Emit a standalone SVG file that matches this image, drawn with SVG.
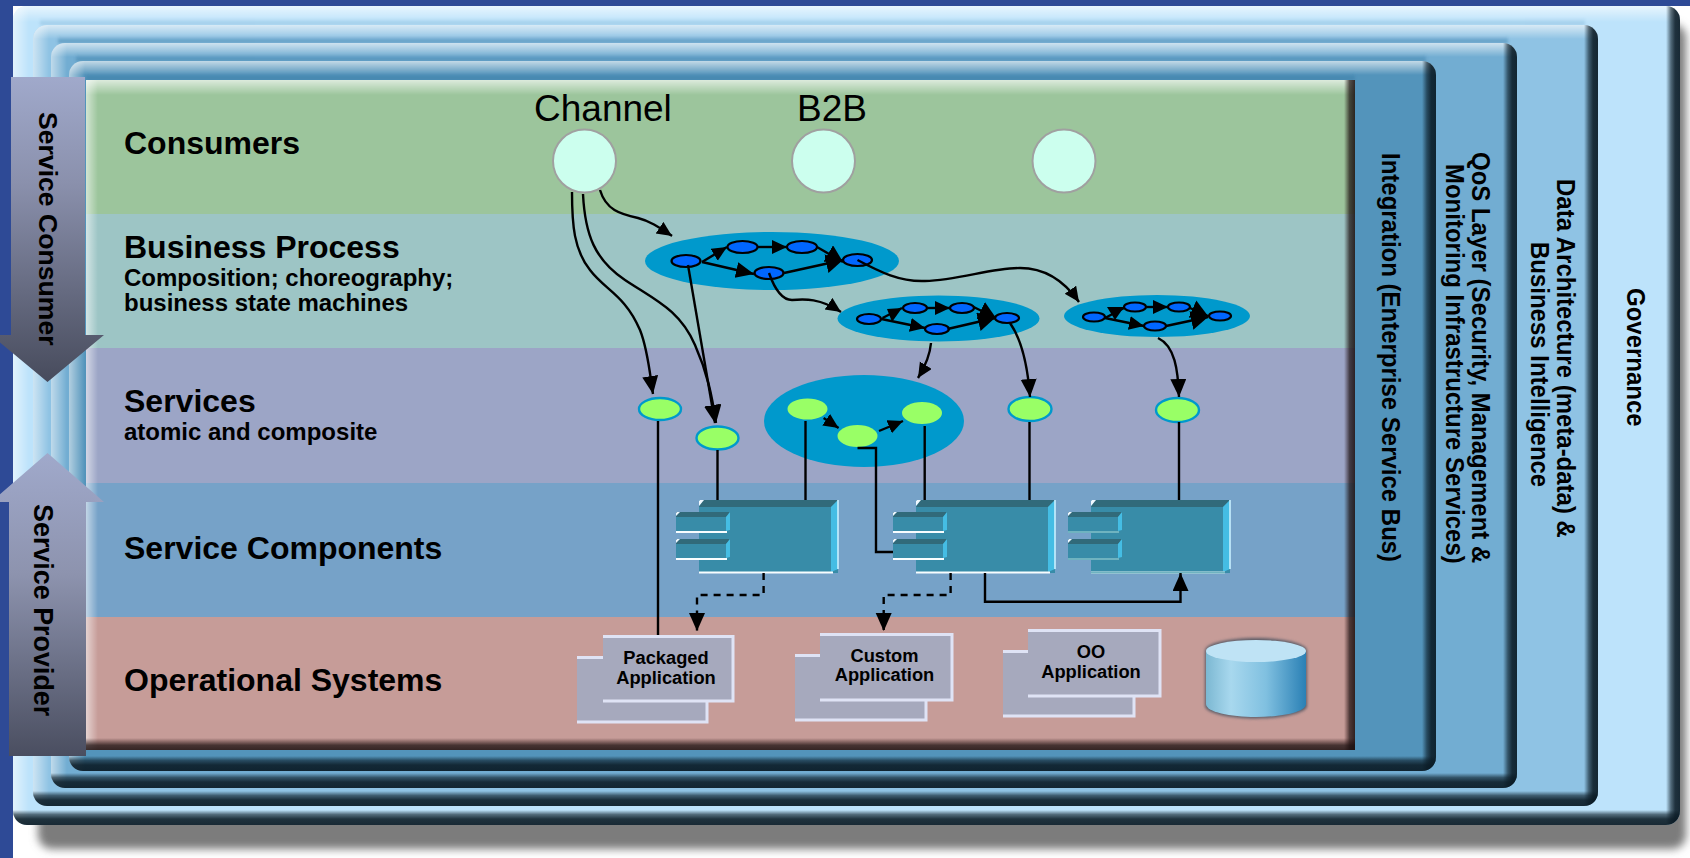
<svg xmlns="http://www.w3.org/2000/svg" width="1690" height="858" viewBox="0 0 1690 858">
<style>
.h{font:bold 32px "Liberation Sans",Arial,sans-serif;fill:#000}
.s{font:bold 24px "Liberation Sans",Arial,sans-serif;fill:#000}
.v{font:bold 26px "Liberation Sans",Arial,sans-serif;fill:#000}
.n{font:37px "Liberation Sans",Arial,sans-serif;fill:#000}
.b{font:bold 18.3px "Liberation Sans",Arial,sans-serif;fill:#000;text-anchor:middle}
.c{fill:none;stroke:#000;stroke-width:2.4}
.d{stroke-dasharray:7 6}
.m{marker-end:url(#am)}
.l{marker-end:url(#al)}
.x{marker-end:url(#ax)}
.bl{fill:#06f;stroke:#000;stroke-width:2.2}
.gr{fill:#9f6;stroke:#09c;stroke-width:2.4}
.gn{fill:#9f6}
.el{fill:#09c}
.ci{fill:#cfe;stroke:#a0a0a0;stroke-width:2}
.bk{fill:#a6a9bd}
.be{fill:none;stroke:#dfe3f5;stroke-width:3}
</style>
<defs>
<marker id="am" markerUnits="userSpaceOnUse" markerWidth="16" markerHeight="15" refX="15" refY="7" orient="auto"><path d="M0 0L15 7L0 14z"/></marker>
<marker id="al" markerUnits="userSpaceOnUse" markerWidth="19" markerHeight="17" refX="18" refY="8" orient="auto"><path d="M0 0L18 8L0 16z"/></marker>
<marker id="ax" markerUnits="userSpaceOnUse" markerWidth="18" markerHeight="20" refX="17" refY="9.5" orient="auto"><path d="M0 0L17 9.5L0 19z"/></marker>
<filter id="blur" x="-5%" y="-5%" width="110%" height="110%"><feGaussianBlur stdDeviation="4"/></filter>
<filter id="blur2" x="-10%" y="-10%" width="120%" height="120%"><feGaussianBlur stdDeviation="1.5"/></filter>
<filter id="soft" x="-2%" y="-200%" width="104%" height="500%"><feGaussianBlur stdDeviation="1.6"/></filter>
<linearGradient id="arrowD" x1="0" y1="0" x2="0" y2="1"><stop offset="0" stop-color="#a0a9cb"/><stop offset=".35" stop-color="#8a90ac"/><stop offset="1" stop-color="#474b5c"/></linearGradient>
<linearGradient id="arrowU" x1="0" y1="0" x2="0" y2="1"><stop offset="0" stop-color="#a0a9cb"/><stop offset=".4" stop-color="#8d93ae"/><stop offset="1" stop-color="#4a4e60"/></linearGradient>
<linearGradient id="wTop" x1="0" y1="0" x2="0" y2="1"><stop offset="0" stop-color="#fff" stop-opacity=".65"/><stop offset="1" stop-color="#fff" stop-opacity="0"/></linearGradient>
<linearGradient id="wLeft" x1="0" y1="0" x2="1" y2="0"><stop offset="0" stop-color="#fff" stop-opacity=".55"/><stop offset="1" stop-color="#fff" stop-opacity="0"/></linearGradient>
<linearGradient id="glow" x1="0" y1="0" x2="0" y2="1"><stop offset="0" stop-color="#3f7fa8" stop-opacity="0"/><stop offset="1" stop-color="#3f7fa8" stop-opacity=".85"/></linearGradient>
<linearGradient id="kRight" x1="0" y1="0" x2="1" y2="0"><stop offset="0" stop-color="#0a1a24" stop-opacity="0"/><stop offset=".35" stop-color="#0a1a24" stop-opacity=".6"/><stop offset=".65" stop-color="#0a1a24" stop-opacity=".88"/><stop offset="1" stop-color="#0a1a24" stop-opacity=".92"/></linearGradient>
<linearGradient id="kBot" x1="0" y1="0" x2="0" y2="1"><stop offset="0" stop-color="#0a1a24" stop-opacity="0"/><stop offset=".3" stop-color="#0a1a24" stop-opacity=".6"/><stop offset=".6" stop-color="#0a1a24" stop-opacity=".88"/><stop offset="1" stop-color="#0a1a24" stop-opacity=".92"/></linearGradient>
<linearGradient id="kRightI" x1="0" y1="0" x2="1" y2="0"><stop offset="0" stop-color="#2a1010" stop-opacity="0"/><stop offset=".5" stop-color="#1c1010" stop-opacity=".7"/><stop offset="1" stop-color="#1c1010" stop-opacity=".88"/></linearGradient>
<linearGradient id="kBotI" x1="0" y1="0" x2="0" y2="1"><stop offset="0" stop-color="#2a1010" stop-opacity="0"/><stop offset=".6" stop-color="#1c1010" stop-opacity=".75"/><stop offset="1" stop-color="#1c1010" stop-opacity=".85"/></linearGradient>
<linearGradient id="cyl" x1="0" y1="0" x2="1" y2="0"><stop offset="0" stop-color="#7cb8d2"/><stop offset=".25" stop-color="#a8d8ee"/><stop offset=".6" stop-color="#80c0e0"/><stop offset="1" stop-color="#2a80b5"/></linearGradient>
<clipPath id="p1"><rect x="13" y="6" width="1667" height="819" rx="14"/></clipPath>
<clipPath id="p2"><rect x="33" y="25" width="1565" height="781" rx="14"/></clipPath>
<clipPath id="p3"><rect x="51" y="43" width="1466" height="745" rx="14"/></clipPath>
<clipPath id="p4"><rect x="69" y="61" width="1367" height="710" rx="14"/></clipPath>
<g id="tab">
<path d="M0 12H54V33H0z" fill="#388ca8"/>
<path d="M0 12H54L50 17H0z" fill="#316a7a"/>
<path d="M50 17L54 12V30L50 31z" fill="#45bde4"/>
<rect x="0" y="31" width="51" height="2" fill="#f8fdff"/>
<path d="M0 16L4 12H1L0 13z" fill="#f0f8ff"/>
</g>
<g id="comp">
<rect x="23" y="0" width="139" height="73" fill="#388ca8"/>
<path d="M27 0H162L155 7H23z" fill="#316a7a"/>
<path d="M155 7L162 0V69L155 72z" fill="#45bde4"/>
<path d="M162 0V69" fill="none" stroke="#c8f0ff" stroke-width="1.6"/>
<rect x="23" y="71.500" width="134" height="2" fill="#f8fdff"/>
<path d="M23 6L28 0H24L23 1z" fill="#f0f8ff"/>
<use href="#tab"/>
<use href="#tab" y="27"/>
</g>
</defs>
<rect width="1690" height="858" fill="#fff"/>
<rect x="0" y="0" width="13" height="858" fill="#2e4a96"/>
<rect x="0" y="0" width="1690" height="6" fill="#2e4a96"/>
<g id="shadow"><rect x="38" y="24" width="1648" height="825" rx="14" fill="#7b7b7b" filter="url(#blur)"/></g>

<g id="governance" clip-path="url(#p1)">
<rect x="13" y="6" width="1667" height="819" fill="#bde3fb"/>
<rect x="13" y="6" width="1667" height="16" fill="url(#wTop)"/>
<rect x="13" y="6" width="16" height="819" fill="url(#wLeft)"/>
<rect x="1666" y="6" width="14" height="819" fill="url(#kRight)"/>
<rect x="13" y="810" width="1667" height="15" fill="url(#kBot)"/>
<rect x="40" y="18" width="1545" height="7" fill="url(#glow)" opacity=".3" filter="url(#soft)"/>
</g>
<g id="data" clip-path="url(#p2)">
<rect x="33" y="25" width="1565" height="781" fill="#8fc3e4"/>
<rect x="33" y="25" width="1565" height="14" fill="url(#wTop)"/>
<rect x="33" y="25" width="16" height="781" fill="url(#wLeft)"/>
<rect x="1584" y="25" width="14" height="781" fill="url(#kRight)"/>
<rect x="33" y="791" width="1565" height="15" fill="url(#kBot)"/>
<rect x="58" y="36" width="1450" height="7" fill="url(#glow)" opacity=".8" filter="url(#soft)"/>
</g>
<g id="qos" clip-path="url(#p3)">
<rect x="51" y="43" width="1466" height="745" fill="#72add2"/>
<rect x="51" y="43" width="1466" height="14" fill="url(#wTop)"/>
<rect x="51" y="43" width="16" height="745" fill="url(#wLeft)"/>
<rect x="1503" y="43" width="14" height="745" fill="url(#kRight)"/>
<rect x="51" y="773" width="1466" height="15" fill="url(#kBot)"/>
<rect x="76" y="54" width="1350" height="7" fill="url(#glow)" opacity=".8" filter="url(#soft)"/>
</g>
<g id="integration" clip-path="url(#p4)">
<rect x="69" y="61" width="1367" height="710" fill="#5394bb"/>
<rect x="69" y="61" width="1367" height="14" fill="url(#wTop)"/>
<rect x="69" y="61" width="16" height="710" fill="url(#wLeft)"/>
<rect x="1422" y="61" width="14" height="710" fill="url(#kRight)"/>
<rect x="69" y="756" width="1367" height="15" fill="url(#kBot)"/>
<rect x="86" y="73" width="1269" height="7" fill="url(#glow)" filter="url(#soft)"/>
</g>

<g id="layers">
<rect id="layer-consumers" x="86" y="80" width="1269" height="134" fill="#9cc59c"/>
<rect id="layer-process" x="86" y="214" width="1269" height="134" fill="#9dc5c5"/>
<rect id="layer-services" x="86" y="348" width="1269" height="135" fill="#9ca5c6"/>
<rect id="layer-components" x="86" y="483" width="1269" height="134" fill="#76a2c8"/>
<rect id="layer-ops" x="86" y="617" width="1269" height="133" fill="#c69c98"/>
<rect x="86" y="80" width="1269" height="15" fill="url(#wTop)"/>
<rect x="86" y="80" width="12" height="670" fill="url(#wLeft)"/>
<rect x="1344" y="80" width="11" height="670" fill="url(#kRightI)"/>
<rect x="86" y="738" width="1269" height="12" fill="url(#kBotI)"/>
</g>

<g id="band-labels">
<text class="v" transform="translate(1382 153) rotate(90) scale(.923 1)">Integration (Enterprise Service Bus)</text>
<text class="v" transform="translate(1472 152) rotate(90) scale(.923 1)">QoS Layer (Security, Management &amp;</text>
<text class="v" transform="translate(1446 164) rotate(90) scale(.923 1)">Monitoring Infrastructure Services)</text>
<text class="v" transform="translate(1557 179) rotate(90) scale(.923 1)">Data Architecture (meta-data) &amp;</text>
<text class="v" transform="translate(1531 242) rotate(90) scale(.923 1)">Business Intelligence</text>
<text class="v" transform="translate(1627 288) rotate(90) scale(.923 1)">Governance</text>
<text class="h" x="124" y="154">Consumers</text>
<text class="h" x="124" y="258">Business Process</text>
<text class="s" x="124" y="286">Composition; choreography;</text>
<text class="s" x="124" y="311">business state machines</text>
<text class="h" x="124" y="412">Services</text>
<text class="s" x="124" y="440">atomic and composite</text>
<text class="h" x="124" y="559">Service Components</text>
<text class="h" x="124" y="691">Operational Systems</text>
</g>

<g id="service-consumer">
<path d="M11 77H85V335H104L47.5 382L-9 335H11z" fill="url(#arrowD)"/>
<text class="v" transform="translate(39 112) rotate(90)" style="font-size:26.6px">Service Consumer</text>
</g>
<g id="service-provider">
<path d="M9 756H86V502H104L47.5 453L-9 502H9z" fill="url(#arrowU)"/>
<text class="v" transform="translate(33.5 504) rotate(90)" style="font-size:26.9px">Service Provider</text>
</g>

<g id="channel"><circle class="ci" cx="584.5" cy="161" r="31.5"/><text class="n" x="534" y="121">Channel</text></g>
<g id="b2b"><circle class="ci" cx="823.5" cy="161" r="31.5"/><text class="n" x="797" y="121">B2B</text></g>
<g id="consumer3"><circle class="ci" cx="1064" cy="161" r="31.5"/></g>

<g id="process-1"><ellipse class="el" cx="772" cy="261" rx="127" ry="29"/>
<ellipse class="bl" cx="686" cy="261" rx="14.5" ry="6"/><ellipse class="bl" cx="742.5" cy="247" rx="15" ry="6"/><ellipse class="bl" cx="802" cy="247" rx="15" ry="6"/><ellipse class="bl" cx="857.5" cy="260" rx="14.5" ry="6"/><ellipse class="bl" cx="769" cy="273" rx="14.5" ry="6"/></g>
<g id="process-2"><ellipse class="el" cx="938.5" cy="318.5" rx="101" ry="23"/>
<ellipse class="bl" cx="869" cy="319" rx="12" ry="5"/><ellipse class="bl" cx="915" cy="308" rx="12" ry="5"/><ellipse class="bl" cx="962" cy="308" rx="12" ry="5"/><ellipse class="bl" cx="1007" cy="318" rx="12" ry="5"/><ellipse class="bl" cx="937" cy="329" rx="12" ry="5"/></g>
<g id="process-3"><ellipse class="el" cx="1157" cy="316" rx="93" ry="21"/>
<ellipse class="bl" cx="1094" cy="317" rx="11" ry="4.5"/><ellipse class="bl" cx="1135" cy="307" rx="11" ry="4.5"/><ellipse class="bl" cx="1179" cy="307" rx="11" ry="4.5"/><ellipse class="bl" cx="1220" cy="316" rx="11" ry="4.5"/><ellipse class="bl" cx="1155" cy="326" rx="11" ry="4.5"/></g>

<g id="service-1"><ellipse class="gr" cx="660" cy="409" rx="21" ry="11"/></g>
<g id="service-2"><ellipse class="gr" cx="717.5" cy="438" rx="21" ry="11.5"/></g>
<g id="service-composite"><ellipse class="el" cx="864" cy="421" rx="100" ry="46"/>
<ellipse class="gn" cx="807.5" cy="409" rx="20" ry="10.5"/><ellipse class="gn" cx="857.5" cy="436" rx="20" ry="11"/><ellipse class="gn" cx="922" cy="413" rx="20" ry="11"/></g>
<g id="service-3"><ellipse class="gr" cx="1030" cy="409" rx="21.5" ry="12"/></g>
<g id="service-4"><ellipse class="gr" cx="1177.5" cy="410" rx="21.5" ry="12"/></g>

<g id="component-1"><use href="#comp" x="676" y="500"/></g>
<g id="component-2"><use href="#comp" x="893" y="500"/></g>
<g id="component-3"><use href="#comp" x="1068" y="500"/><path d="M1091 571.5h134v2h-134zM1068 531h51v2h-51zM1068 558h51v2h-51z" fill="#6fb3c0"/></g>

<g id="packaged"><rect class="bk" x="577" y="657" width="130" height="65"/><path class="be" d="M577 657.5H707V722H577"/><rect class="bk" x="603" y="636" width="130" height="65"/><path class="be" d="M603 636.5H733V701H603"/><text class="b" x="666" y="664">Packaged</text><text class="b" x="666" y="684">Application</text></g>
<g id="custom"><rect class="bk" x="795" y="655" width="131" height="65"/><path class="be" d="M795 655.5H926V720H795"/><rect class="bk" x="820" y="634" width="132" height="66"/><path class="be" d="M820 634.5H952V700H820"/><text class="b" x="884.5" y="662">Custom</text><text class="b" x="884.5" y="681">Application</text></g>
<g id="oo"><rect class="bk" x="1003" y="651" width="131" height="65"/><path class="be" d="M1003 651.5H1134V716H1003"/><rect class="bk" x="1028" y="630" width="132" height="66"/><path class="be" d="M1028 630.5H1160V696H1028"/><text class="b" x="1091" y="658">OO</text><text class="b" x="1091" y="678">Application</text></g>
<g id="database"><path d="M1205 651C1205 643 1230 638 1256 638C1282 638 1307 643 1307 651V706C1307 713 1282 718.5 1256 718.5C1230 718.5 1205 713 1205 706z" fill="#5c5c66" filter="url(#blur2)"/><path d="M1206 651V704C1206 712 1230 717 1256 717C1282 717 1306 712 1306 704V651z" fill="url(#cyl)"/><ellipse cx="1256" cy="651" rx="50" ry="11" fill="#bfe3f5"/></g>

<g id="connectors">
<path class="c l" d="M572 192C572 225 574 250 590 270C605 290 625 295 640 330C648 350 650 375 653 394"/>
<path class="c l" d="M583 194C585 235 595 260 625 280C655 300 680 310 695 345C707 372 712 395 716 423"/>
<path class="c m" d="M600 190C606 210 620 214 638 218C650 221 660 228 672 236"/>
<path class="c l" d="M688 265L715 423"/>
<path class="c m" d="M857.5 260C880 272 900 282 925 281C960 280 990 268 1020 268C1045 268 1065 282 1079 302"/>
<path class="c m" d="M769 273C775 290 782 300 792 300C805 299 820 298 841 312"/>
<path class="c m" d="M931 343C930 355 926 365 918 378"/>
<path class="c l" d="M1010 323C1022 340 1028 370 1030 397"/>
<path class="c l" d="M1158 338C1175 346 1178 370 1179 397"/>
<path class="c m" d="M823.6 418L838.6 428"/>
<path class="c m" d="M879 431L903 421"/>
<path class="c" d="M857.5 448H876V552H893"/>
<path class="c" d="M658 421V635"/>
<path class="c" d="M717.5 450V500"/>
<path class="c" d="M805.5 421V500"/>
<path class="c" d="M924.7 426V500"/>
<path class="c" d="M1029.5 422V500"/>
<path class="c" d="M1179 422V500"/>
<path class="c d l" d="M763.6 573V595H697V631"/>
<path class="c d l" d="M950.6 573V595H883.7V631"/>
<path class="c l" d="M985 573V601.7H1180.5V573"/>
<path class="c m" d="M702 262L727 247"/>
<path class="c m" d="M757.5 247H787"/>
<path class="c x" d="M817 247L843 262"/>
<path class="c l" d="M702 262L754 274"/>
<path class="c x" d="M784 273L843 260"/>
<path class="c" d="M882.5 318L902 308"/>
<path d="M887 309L902 308L892 322z"/>
<path class="c m" d="M927 308H950"/>
<path class="c x" d="M973.6 307L996 318"/>
<path class="c m" d="M881.4 319L925 328"/>
<path class="c x" d="M947.5 329L995 318"/>
<path class="c" d="M1105 318L1124 308"/>
<path d="M1107 307L1124 307L1115 320z"/>
<path class="c m" d="M1147 307H1168"/>
<path class="c x" d="M1190 308L1208 316"/>
<path class="c m" d="M1105 318L1144 326"/>
<path class="c x" d="M1166 326L1208 317"/>
</g>
</svg>
